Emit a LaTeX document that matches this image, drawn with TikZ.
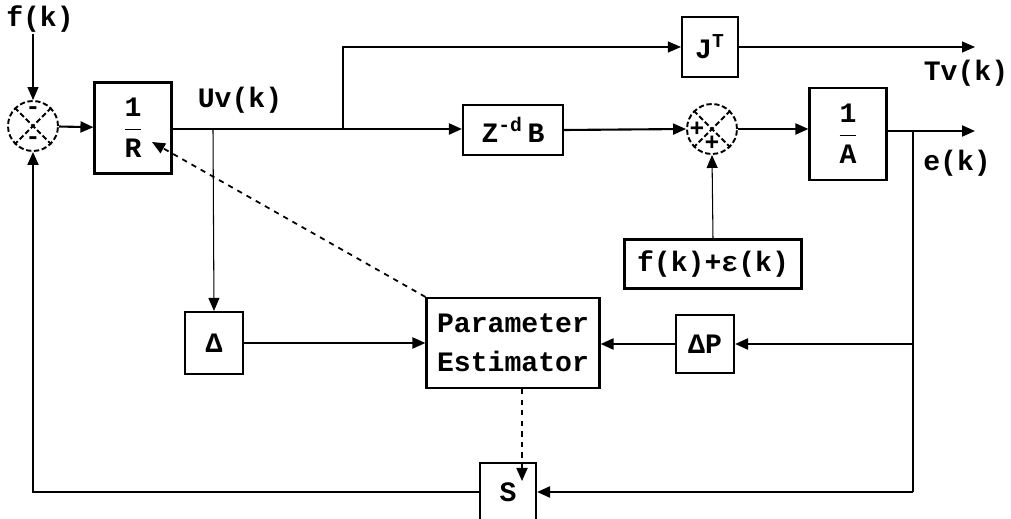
\documentclass[tikz,border=0pt]{standalone}
\usepackage{amsmath}
\usepackage{fontspec}
\setmonofont{Liberation Mono}
\usetikzlibrary{arrows.meta,positioning,calc}
\newcommand{\blkfont}{\ttfamily\bfseries\fontsize{16}{22}\selectfont}
\tikzset{
  blk/.style={draw, line width=1.2pt, align=center, inner sep=2pt, font=\blkfont},
  sumnode/.style={draw, circle, dash pattern=on 3pt off 1.5pt, line width=1.1pt, minimum size=10mm, inner sep=0pt},
  sgn/.style={inner sep=0pt, font=\ttfamily\bfseries\fontsize{14}{14}\selectfont},
  lbl/.style={inner sep=1pt, font=\blkfont},
  sig/.style={-{Triangle[length=2.6mm,width=2.2mm]}, line width=1.2pt},
  sigthin/.style={-{Triangle[length=2.6mm,width=2.2mm]}, line width=0.6pt},
  est/.style={-{Triangle[length=2.6mm,width=2.2mm]}, dashed, line width=1pt}
}
\begin{document}
\begin{tikzpicture}[x=0.2mm,y=-0.2mm]
\useasboundingbox (0,0) rectangle (1011,519);
% forward path
\node[sumnode] (sumA) at (33,126) {};
\node[blk, minimum width=15.4mm, minimum height=18.2mm] (rbox) at (133,128) {$\dfrac{\text{1}}{\text{R}}$};
\node[blk, minimum width=20mm, minimum height=10mm] (zb) at (513,130) {Z$^{\text{-d}}$\,B};
\node[sumnode] (sumB) at (712,129) {};
\node[blk, minimum width=15.4mm, minimum height=18.4mm] (abox) at (848,134) {$\dfrac{\text{1}}{\text{A}}$};
\node[blk, minimum width=11.2mm, minimum height=12mm] (jt) at (710,47) {J$^{\text{T}}$};
\node[blk, minimum width=35.4mm, minimum height=9.8mm] (fe) at (713,264) {f(k)+ε(k)};
% estimation loop
\node[blk, minimum width=11.6mm, minimum height=12.4mm] (dbox) at (214,343) {Δ};
\node[blk, minimum width=34.6mm, minimum height=18mm] (pe) at (513,343) {Parameter\\Estimator};
\node[blk, minimum width=11.6mm, minimum height=11.6mm] (dp) at (705,344) {ΔP};
\node[blk, minimum width=11.2mm, minimum height=11.6mm] (sbox) at (508,492) {S};
% labels
\node[lbl] (fk) at (40,19) {f(k)};
\node[lbl] (uv) at (240,100) {Uv(k)};
\node[lbl] (tv) at (966,73) {Tv(k)};
\node[lbl] (ek) at (957,163) {e(k)};
\coordinate (brD) at (213,129);
\coordinate (brJ) at (343,129);
\coordinate (brE) at (913,131);
\coordinate (tvEnd) at (975,47);
\coordinate (eEnd) at (975,131);
\coordinate (rIn) at (152,142);
\coordinate (sIn) at (522,481);
% summing junctions
\foreach \s in {sumA,sumB} {
  \draw[line width=1.1pt, dash pattern=on 3pt off 1.5pt] (\s.north west) -- (\s.south east);
  \draw[line width=1.1pt, dash pattern=on 3pt off 1.5pt] (\s.north east) -- (\s.south west);
}
\node[sgn] at ($(sumA)+(0,-15)$) {-};
\node[sgn] at ($(sumA)+(0,15)$) {-};
\node[sgn] at ($(sumB)+(-15,0)$) {+};
\node[sgn] at ($(sumB)+(0,14)$) {+};
% signals
\draw[sigthin] (sumA |- fk.south) -- (sumA);
\draw[sig] (sumA) -- (rbox);
\draw[sig] (rbox.east |- brD) -- (zb.west |- brD);
\draw[sigthin] (brD) -- (dbox.north);
\draw[sigthin] (brJ) |- (jt.west);
\draw[sigthin] (jt.east) -- (tvEnd);
\draw[sig] (zb.east) -- (sumB.west);
\draw[sig] (sumB.east) -- (abox.west |- sumB);
\draw[sig] (abox.east |- eEnd) -- (eEnd);
\draw[sigthin] (fe.north) -- (sumB.south);
\draw[line width=0.6pt] (brE) -- (brE |- sbox);
\draw[sig] (brE |- sbox) -- (sbox.east);
\draw[sig] (brE |- dp) -- (dp.east);
\draw[sig] (dp.west) -- (pe.east |- dp);
\draw[sig] (dbox.east) -- (pe.west |- dbox);
\draw[sig] (sbox.west) -| (sumA.south);
% adaptation
\draw[est] (pe.north west) -- (rIn);
\draw[est] (pe.south -| sIn) -- (sIn);
\end{tikzpicture}
\end{document}
